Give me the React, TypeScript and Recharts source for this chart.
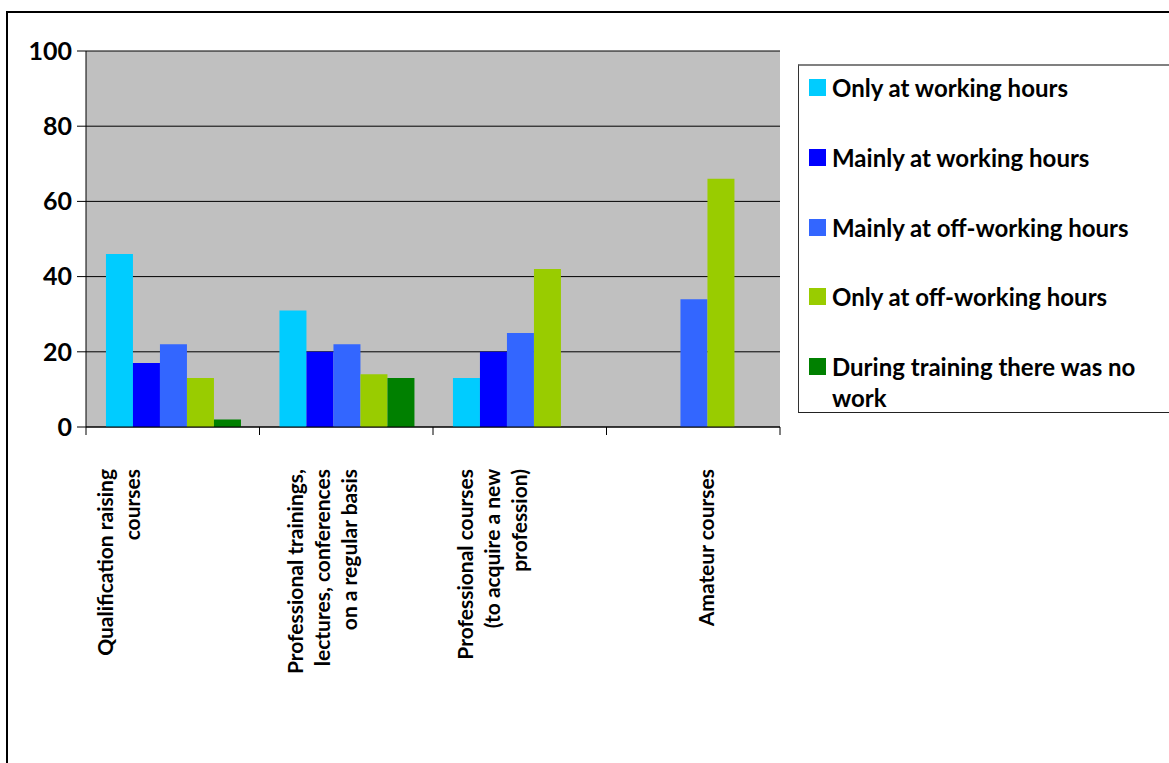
import React from "react";
import { Bar, BarChart, CartesianGrid, XAxis, YAxis } from "recharts";

const categories = [
    "Qualification raising courses",
    "Professional trainings, lectures, conferences on a regular basis",
    "Professional courses (to acquire a new profession)",
    "Amateur courses",
];
// how the category labels wrap under the axis
const categoryLines = [
    ["Qualification raising", "courses"],
    ["Professional trainings,", "lectures, conferences", "on a regular basis"],
    ["Professional courses", "(to acquire a new", "profession)"],
    ["Amateur courses"],
];

const seriesNames = [
    "Only at working hours",
    "Mainly at working hours",
    "Mainly at off-working hours",
    "Only at off-working hours",
    "During training there was no work",
];
const seriesColors = ["#00CCFF", "#0000FF", "#3366FF", "#99CC00", "#008000"];

const onlyWorking = [46, 31, 13, null];
const mainlyWorking = [17, 20, 20, null];
const mainlyOff = [22, 22, 25, 34];
const onlyOff = [13, 14, 42, 66];
const noWork = [2, 13, null, null];

const yTicks = [0, 20, 40, 60, 80, 100];

const seriesValues = [onlyWorking, mainlyWorking, mainlyOff, onlyOff, noWork];
const data = categories.map((name, i) => {
    const row: Record<string, any> = { name };
    seriesNames.forEach((s, k) => {
        row[s] = seriesValues[k][i];
    });
    return row;
});

const W = 1169;
const H = 763;
const PLOT_LEFT = 86;
const PLOT_RIGHT = 780;
const PLOT_BOTTOM = 427;
const FONT = "Lato, 'Open Sans', sans-serif";
// excel put the rotated label blocks a bit off-centre
const labelShift = [-46, -16, -20, 21];

const XTick = (props: any) => {
    const { x, y, index } = props;
    const band = (PLOT_RIGHT - PLOT_LEFT) / categories.length;
    const lines = categoryLines[index] || [];
    const step = 27;
    const mid = x + labelShift[index];
    return (
        <g>
            <line x1={x - band / 2} x2={x - band / 2} y1={y} y2={y + 8} stroke="#000" />
            {index === categories.length - 1 && (
                <line x1={x + band / 2} x2={x + band / 2} y1={y} y2={y + 8} stroke="#000" />
            )}
            {lines.map((ln, k) => {
                const lx = mid + (k - (lines.length - 1) / 2) * step;
                const ly = y + 42;
                return (
                    <text
                        key={k}
                        x={lx}
                        y={ly}
                        transform={`rotate(-90 ${lx} ${ly})`}
                        textAnchor="end"
                        fontSize={21}
                        fontWeight="bold"
                        fontFamily={FONT}
                        fill="#000"
                    >
                        {ln}
                    </text>
                );
            })}
        </g>
    );
};

const App: React.FC = () => {
    return (
        <div style={{ position: "absolute", left: 0, top: 0, width: W, height: H, overflow: "hidden", background: "#fff" }}>
            <div
                style={{
                    position: "absolute",
                    left: 6,
                    top: 11,
                    width: 1200,
                    height: 800,
                    border: "2px solid #000",
                }}
            />
            <div style={{ position: "absolute", left: 0, top: 0 }}>
                <BarChart
                    width={W}
                    height={H}
                    data={data}
                    margin={{ top: 51, right: W - PLOT_RIGHT, left: 0, bottom: 20 }}
                    barCategoryGap="11.5%"
                    barGap={0}
                >
                    <CartesianGrid vertical={false} stroke="#000" fill="#C0C0C0" fillOpacity={1} />
                    <XAxis
                        dataKey="name"
                        height={H - 20 - PLOT_BOTTOM}
                        interval={0}
                        tickLine={false}
                        tickSize={0}
                        tickMargin={0}
                        axisLine={{ stroke: "#000" }}
                        tick={<XTick />}
                    />
                    <YAxis
                        width={PLOT_LEFT}
                        domain={[0, 100]}
                        ticks={yTicks}
                        tickSize={9}
                        tickMargin={5}
                        axisLine={{ stroke: "#000" }}
                        tickLine={{ stroke: "#000" }}
                        tick={{ fill: "#000", fontSize: 25, fontWeight: "bold", fontFamily: FONT }}
                    />
                    {seriesNames.map((s, k) => (
                        <Bar key={s} dataKey={s} fill={seriesColors[k]} isAnimationActive={false} />
                    ))}
                </BarChart>
            </div>
            <div
                style={{
                    position: "absolute",
                    left: 798,
                    top: 64,
                    width: 420,
                    height: 346,
                    borderLeft: "1px solid #333",
                    borderBottom: "1px solid #222",
                    borderTop: "2px solid #808080",
                    fontFamily: FONT,
                    fontWeight: "bold",
                    fontSize: 24,
                    lineHeight: "31px",
                    color: "#000",
                }}
            >
                {seriesNames.map((s, k) => (
                    <div key={s} style={{ position: "absolute", left: 10, top: 6 + k * 69.75, width: 330, display: "flex" }}>
                        <div
                            style={{
                                width: 17,
                                height: 17,
                                marginTop: 7,
                                background: seriesColors[k],
                                flex: "none",
                            }}
                        />
                        <div style={{ marginLeft: 6 }}>{s}</div>
                    </div>
                ))}
            </div>
        </div>
    );
};

export default App;
